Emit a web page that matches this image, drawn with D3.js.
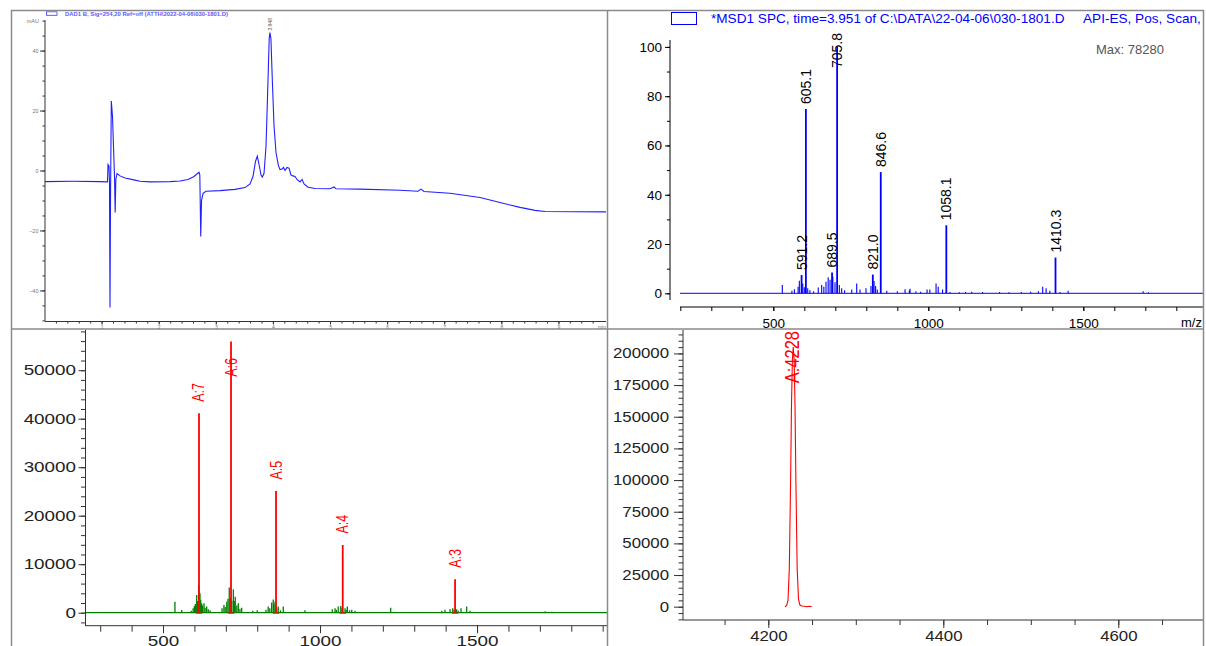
<!DOCTYPE html>
<html><head><meta charset="utf-8">
<script src="https://cdn.jsdelivr.net/npm/d3@7"></script>
<style>
body{margin:0;background:#fff}
svg{display:block}
text{font-family:"Liberation Sans",Arial,Helvetica,sans-serif}
</style>
</head><body>
<svg id="c" width="1206" height="646"></svg>
<script>
// ---------------- DATA ----------------
// Panel A: DAD chromatogram [time (min), mAU]
const chromTrace = [
 [0,-3.7],[0.5,-3.6],[0.97,-3.7],[1.103,-3.8],[1.112,2.0],[1.129,1.5],[1.138,-3.8],[1.147,-45.7],
 [1.156,-10],[1.17,23.2],[1.191,18],[1.208,8],[1.226,-2],[1.238,-14],[1.249,-3],[1.27,-1],
 [1.322,-1.8],[1.41,-2.5],[1.585,-3.2],[1.672,-3.6],[1.848,-3.8],[2.198,-3.7],[2.373,-3.5],
 [2.513,-3.0],[2.618,-2.0],[2.706,-0.6],[2.72,-1.5],[2.736,-22],[2.75,-10],[2.776,-7.6],
 [2.828,-6.9],[3.073,-6.7],[3.336,-6.3],[3.511,-5.7],[3.599,-4.5],[3.651,-2],[3.695,3],
 [3.727,4.8],[3.757,2],[3.792,-1.5],[3.814,-2.2],[3.844,-1],[3.879,8],[3.914,30],[3.935,44],
 [3.948,46],[3.965,44],[3.99,30],[4.019,15],[4.054,6],[4.095,1.8],[4.124,0.3],[4.159,0.5],
 [4.186,1.0],[4.212,0],[4.247,1.0],[4.282,0.8],[4.317,-1.5],[4.352,-1.8],[4.387,-2],[4.422,-3],
 [4.475,-3.8],[4.51,-3.0],[4.545,-4.5],[4.615,-5.6],[4.737,-6.0],[5.0,-6.1],[5.07,-5.5],
 [5.105,-6.1],[5.525,-6.2],[6.226,-6.6],[6.541,-6.9],[6.594,-6.2],[6.646,-7.0],[7.10,-7.6],
 [7.627,-9.0],[7.977,-10.7],[8.327,-12.3],[8.59,-13.3],[8.765,-13.7],[9.833,-13.8]
];
const chromLabels = [[3.948, 46, "3.948"]];
const chromYTicks = [-40,-20,0,20,40];
const chromXTicks = [1,2,3,4,5,6,7,8,9];

// Panel B: MS spectrum [m/z, % of max]
const msSpectrum = [
 [529,3.4],[560,1.0],[568,1.6],[580,2.7],[584,5.1],[591.2,7.4],[595,4.0],[600,2.5],[605.1,74.8],
 [611,2.0],[618,1.2],[630,0.8],[645,2.4],[656,3.4],[663,2.7],[670,4.7],[677,6.5],[683,5.5],
 [689.5,8.4],[692,6.7],[699,4.5],[705.8,100],[713,3.4],[720.6,2.0],[730,1.2],[753,1.5],
 [769,4.0],[779.7,1.5],[799,2.0],[815,3.0],[821.0,7.6],[825,5.0],[830,3.0],[835.5,1.5],
 [846.6,49.2],[866,1.0],[900,0.8],[925,1.6],[939,1.2],[941,1.8],[960,0.8],[975,0.6],
 [996,1.5],[1005,1.5],[1025,4.0],[1032,2.7],[1046,1.5],[1058.1,27.6],[1070,0.5],[1100,0.4],
 [1120,0.5],[1140,0.6],[1175,0.5],[1230,0.5],[1260,0.4],[1300,0.5],[1330,0.6],[1355,0.8],
 [1369,2.7],[1380,2.0],[1392,1.0],[1410.3,14.5],[1425,0.5],[1451,1.0],[1693,0.8],[1710,0.4]
];
const msLabels = [591.2,605.1,689.5,705.8,821.0,846.6,1058.1,1410.3];
const msMax = 78280;
const msYTicks = [0,20,40,60,80,100];
const msXTicks = [500,1000,1500];
const msTitle = ["*MSD1 SPC, time=3.951 of C:\\DATA\\22-04-06\\030-1801.D", "API-ES, Pos, Scan, Frag: 70"];

// Panel C: charge-state sticks and residual spectrum [m/z, abundance]
const greenSpectrum = [
 [538,2270],[559.6,560],[590,400],[596,900],[599.7,1380],[603,1800],[607.3,3650],[610,2400],[613.7,5700],[617.8,4000],
 [620,2600],[623,1940],[626,1500],[630.6,1940],[634,1000],[639,1300],[644,700],[649.7,500],[688,900],[694,1600],[698,1200],[703,2270],
 [707,2900],[711,5200],[714,3000],[719,2500],[724,4800],[727,2400],[730,3300],[735,1500],[739.8,1940],[745,800],[750.6,1000],[786,400],[800,500],
 [828,600],[835,1300],[840,900],[846,2100],[851,2700],[853,1800],[856.7,2270],[862,900],[867,1300],[874,500],[883,1300],[952,500],[1039,700],
 [1047.8,900],[1052,600],[1058,1300],[1066,1380],[1070,1000],[1079.6,900],[1083,600],[1087,1300],[1094,500],[1101,600],[1111.5,400],[1225,1030],
 [1387.6,400],[1398,600],[1414,700],[1422.6,900],[1427,600],[1435,700],[1440,400],[1449,900],[1467,1300],[1477.7,400],[1716.6,300],[1738,200]
];
const chargeSticks = [[614.6,41100,"A:7"],[716.6,55900,"A:6"],[859.9,25100,"A:5"],[1072.3,13960,"A:4"],[1430,6890,"A:3"]];
const cYTicks = [0,10000,20000,30000,40000,50000];
const cXTicks = [500,1000,1500];

// Panel D: deconvoluted mass [mass, abundance]
const deconv = [
 [4219,0],[4221,1000],[4222.5,5000],[4224,30000],[4225.5,100000],[4226.5,160000],[4227.5,195000],
 [4228.5,205000],[4229.5,195000],[4230.5,160000],[4231.5,100000],[4233,30000],[4234.5,6000],
 [4236,1500],[4238,500],[4241,300],[4244,0],[4247,400],[4249.5,0]
];
const deconvLabel = [4228.6, 205000, "A:4228"];
const dYTicks = [0,25000,50000,75000,100000,125000,150000,175000,200000];
const dXTicks = [4200,4400,4600];

// ---------------- DRAW ----------------
const svg = d3.select("#c");
const defs = svg.append("defs");
const intFmt = d3.format("d");
function clip(id,x0,y0,x1,y1){defs.append("clipPath").attr("id",id).append("rect").attr("x",x0).attr("y",y0).attr("width",x1-x0).attr("height",y1-y0);return `url(#${id})`;}
function stretch(g, sx, left){
  g.selectAll("text").each(function(){
    const t=d3.select(this);
    if(left){ t.attr("x", +t.attr("x")/sx); }
    t.attr("transform",`scale(${sx},1)`);
  });
}

// ===== Panel A =====
const ax = d3.scaleLinear().domain([0,9.84]).range([44.5,606.4]);
const ay = d3.scaleLinear().domain([-50.2,50.2]).range([321,20]);
const gA = svg.append("g");
gA.append("g").attr("transform","translate(45,0)")
  .call(d3.axisLeft(ay).tickValues(d3.range(-50,51,5)).tickSize(2.5).tickFormat(""))
  .call(g=>g.select(".domain").remove()).selectAll("line").attr("stroke","#333");
gA.append("g").attr("transform","translate(45,0)")
  .call(d3.axisLeft(ay).tickValues(chromYTicks).tickSize(5).tickPadding(1.5))
  .call(g=>g.select(".domain").attr("d","M0,20V321").attr("stroke","#333"))
  .call(g=>g.selectAll("text").attr("font-size",5.5).attr("fill","#777"))
  .selectAll("line").attr("stroke","#333");
gA.append("g").attr("transform","translate(0,321.5)")
  .call(d3.axisBottom(ax).tickValues(d3.range(1,49).map(i=>i*0.2).filter(v=>v<9.84)).tickSize(2).tickFormat(""))
  .call(g=>g.select(".domain").remove()).selectAll("line").attr("stroke","#333");
gA.append("g").attr("transform","translate(0,321.5)")
  .call(d3.axisBottom(ax).tickValues(chromXTicks).tickSize(3).tickPadding(0.5).tickFormat(intFmt))
  .call(g=>g.select(".domain").attr("d","M45,0H606").attr("stroke","#333"))
  .call(g=>g.selectAll("text").attr("font-size",5).attr("fill","#777"))
  .selectAll("line").attr("stroke","#333");
gA.append("text").attr("x",39).attr("y",23).attr("text-anchor","end").attr("font-size",5.5).attr("fill","#777").text("mAU");
gA.append("text").attr("x",606).attr("y",328.5).attr("text-anchor","end").attr("font-size",5).attr("fill","#777").text("min");
gA.append("rect").attr("x",46.5).attr("y",11.8).attr("width",10.5).attr("height",3.5).attr("fill","none").attr("stroke","#3a3aff").attr("stroke-width",0.8);
gA.append("text").attr("x",65).attr("y",15.5).attr("font-size",5.9).attr("font-weight","bold").attr("fill","#5a5aff")
  .text("DAD1 B, Sig=254,20 Ref=off (ATTH\\2022-04-06\\030-1801.D)");
gA.append("path").datum(chromTrace).attr("clip-path",clip("cA",45,20,606,321))
  .attr("fill","none").attr("stroke","#2020ff").attr("stroke-width",1.1)
  .attr("d",d3.line().x(d=>ax(d[0])).y(d=>ay(d[1])));
chromLabels.forEach(d=>{
  gA.append("text").attr("transform",`translate(${ax(d[0])+2},${ay(d[1])-2}) rotate(-90)`)
    .attr("font-size",5).attr("fill","#555").text(d[2]);
});

// ===== Panel B =====
const bx = d3.scaleLinear().domain([199,1886.1]).range([680,1203]);
const by = d3.scaleLinear().domain([-5.56,102.8]).range([307,40]);
const gB = svg.append("g");
gB.append("g").attr("transform","translate(670,0)")
  .call(d3.axisLeft(by).tickValues(d3.range(0,101,10)).tickSize(3).tickFormat(""))
  .call(g=>g.select(".domain").remove()).selectAll("line").attr("stroke","#000");
gB.append("g").attr("transform","translate(670,0)")
  .call(d3.axisLeft(by).tickValues(msYTicks).tickSize(5).tickPadding(3).tickFormat(intFmt))
  .call(g=>g.select(".domain").attr("d","M0,40V300").attr("stroke","#000"))
  .call(g=>g.selectAll("text").attr("font-size",13.5).attr("fill","#000"))
  .selectAll("line").attr("stroke","#000");
gB.append("g").attr("transform","translate(0,307)")
  .call(d3.axisBottom(bx).tickValues(d3.range(200,1887,100)).tickSize(4).tickFormat(""))
  .call(g=>g.select(".domain").attr("d","M680,0H1203").attr("stroke","#000"))
  .selectAll("line").attr("stroke","#000");
gB.append("g").attr("transform","translate(0,307)")
  .call(d3.axisBottom(bx).tickValues(msXTicks).tickSize(4).tickPadding(7).tickFormat(intFmt))
  .call(g=>g.select(".domain").remove())
  .call(g=>g.selectAll("text").attr("font-size",13.5).attr("fill","#000"))
  .selectAll("line").attr("stroke","#000");
gB.append("text").attr("x",1181).attr("y",327).attr("font-size",13).attr("fill","#000").text("m/z");
const gBd = gB.append("g").attr("clip-path",clip("cB",680,32,1203,307));
gBd.append("line").attr("x1",680).attr("x2",1203).attr("y1",by(0)).attr("y2",by(0)).attr("stroke","#0000ff").attr("stroke-width",1);
gBd.selectAll("line.s").data(msSpectrum).join("line").attr("class","s")
  .attr("x1",d=>bx(d[0])).attr("x2",d=>bx(d[0])).attr("y1",by(0)).attr("y2",d=>by(d[1]))
  .attr("stroke","#0000ff").attr("stroke-width",d=>msLabels.includes(d[0])?1.8:1.1);
msLabels.forEach(m=>{
  const p = msSpectrum.find(d=>d[0]===m);
  const t = gB.append("text").attr("font-size",14).attr("fill","#000").text(m.toFixed(1));
  const len = t.node().getComputedTextLength();
  let start = by(p[1]) - 5;
  if(start - len < 33) start = 33 + len;
  t.attr("transform",`translate(${bx(m)+5},${start}) rotate(-90)`);
});
gB.append("rect").attr("x",671.5).attr("y",12.5).attr("width",25).attr("height",12).attr("fill","none").attr("stroke","#0000ff").attr("stroke-width",1);
{
  const tt = gB.append("text").attr("clip-path",clip("cBt",608,0,1201,40)).attr("y",23).attr("font-size",13.6).attr("fill","#0000ff");
  tt.append("tspan").attr("x",711).text(msTitle[0]);
  tt.append("tspan").attr("x",1083).text(msTitle[1]);
}
gB.append("text").attr("x",1096).attr("y",54).attr("font-family","'Liberation Mono','Courier New',monospace").attr("font-size",13).attr("fill","#555").text("Max: "+msMax);

// ===== Panel C =====
const SXC = 1.3;
const cx = d3.scaleLinear().domain([251.6,1917]).range([85,608]);
const cy = d3.scaleLinear().domain([-2680,58290]).range([625.7,330]);
const gC = svg.append("g");
gC.append("g").attr("transform","translate(85.5,0)")
  .call(d3.axisLeft(cy).tickValues(d3.range(-2000,58001,2000)).tickSize(4.5).tickFormat(""))
  .call(g=>g.select(".domain").remove()).selectAll("line").attr("stroke","#333");
gC.append("g").attr("transform","translate(85.5,0)")
  .call(d3.axisLeft(cy).tickValues(cYTicks).tickSize(7).tickPadding(2.5).tickFormat(intFmt))
  .call(g=>g.select(".domain").attr("d","M0,330V625.7").attr("stroke","#333"))
  .call(g=>g.selectAll("text").attr("font-size",14.5).attr("fill","#222"))
  .call(g=>stretch(g,SXC,true))
  .selectAll("line").attr("stroke","#333");
gC.append("g").attr("transform","translate(0,625.7)")
  .call(d3.axisBottom(cx).tickValues(d3.range(300,1901,100)).tickSize(6).tickFormat(""))
  .call(g=>g.select(".domain").attr("d","M85,0H608").attr("stroke","#333"))
  .selectAll("line").attr("stroke","#333");
gC.append("g").attr("transform","translate(0,625.7)")
  .call(d3.axisBottom(cx).tickValues(cXTicks).tickSize(7.5).tickPadding(3).tickFormat(intFmt))
  .call(g=>g.select(".domain").remove())
  .call(g=>g.selectAll("text").attr("font-size",14.5).attr("fill","#222"))
  .call(g=>stretch(g,SXC,false))
  .selectAll("line").attr("stroke","#333");
const gCd = gC.append("g").attr("clip-path",clip("cC",86,330,607,625));
gCd.append("line").attr("x1",86).attr("x2",607).attr("y1",cy(0)).attr("y2",cy(0)).attr("stroke","#008000").attr("stroke-width",1.2);
gCd.selectAll("line.g").data(greenSpectrum).join("line").attr("class","g")
  .attr("x1",d=>cx(d[0])).attr("x2",d=>cx(d[0])).attr("y1",cy(0)).attr("y2",d=>cy(d[1]))
  .attr("stroke","#008000").attr("stroke-width",1.3);
gCd.selectAll("line.r").data(chargeSticks).join("line").attr("class","r")
  .attr("x1",d=>cx(d[0])).attr("x2",d=>cx(d[0])).attr("y1",cy(0)).attr("y2",d=>cy(d[1]))
  .attr("stroke","#ff0000").attr("stroke-width",1.8);
gCd.selectAll("line.rb").data(chargeSticks).join("line").attr("class","rb")
  .attr("x1",d=>cx(d[0]-10)).attr("x2",d=>cx(d[0]+10)).attr("y1",cy(0)+0.5).attr("y2",cy(0)+0.5)
  .attr("stroke","#ff0000").attr("stroke-width",1);
chargeSticks.forEach(d=>{
  const t = gC.append("text").attr("font-size",12.5).attr("fill","#ff0000").text(d[2]);
  const len = t.node().getComputedTextLength();
  let start = cy(d[1]) - 11.5;
  if(start - len < 358) start = 358 + len;
  t.attr("transform",`translate(${cx(d[0])+5.5},${start}) scale(${SXC},1) rotate(-90)`);
});

// ===== Panel D =====
const SXD = 1.2;
const dx = d3.scaleLinear().domain([4102.5,4696.8]).range([683,1203]);
const dy = d3.scaleLinear().domain([-10500,218500]).range([620,330]);
const gD = svg.append("g");
gD.append("g").attr("transform","translate(683,0)")
  .call(d3.axisLeft(dy).tickValues(d3.range(-10000,218001,5000)).tickSize(4.5).tickFormat(""))
  .call(g=>g.select(".domain").remove()).selectAll("line").attr("stroke","#333");
gD.append("g").attr("transform","translate(683,0)")
  .call(d3.axisLeft(dy).tickValues(dYTicks).tickSize(9).tickPadding(5).tickFormat(intFmt))
  .call(g=>g.select(".domain").attr("d","M0,330V620").attr("stroke","#333"))
  .call(g=>g.selectAll("text").attr("font-size",14).attr("fill","#222"))
  .call(g=>stretch(g,SXD,true))
  .selectAll("line").attr("stroke","#333");
gD.append("g").attr("transform","translate(0,620)")
  .call(d3.axisBottom(dx).tickValues(d3.range(4150,4696,50)).tickSize(5).tickFormat(""))
  .call(g=>g.select(".domain").attr("d","M683,0H1203").attr("stroke","#333"))
  .selectAll("line").attr("stroke","#333");
gD.append("g").attr("transform","translate(0,620)")
  .call(d3.axisBottom(dx).tickValues(dXTicks).tickSize(8).tickPadding(3).tickFormat(intFmt))
  .call(g=>g.select(".domain").remove())
  .call(g=>g.selectAll("text").attr("font-size",14).attr("fill","#222"))
  .call(g=>stretch(g,SXD,false))
  .selectAll("line").attr("stroke","#333");
gD.append("path").datum(deconv).attr("clip-path",clip("cD",684,330,1203,620))
  .attr("fill","none").attr("stroke","#ff0000").attr("stroke-width",1.1)
  .attr("d",d3.line().x(d=>dx(d[0])).y(d=>dy(d[1])));
{
  const t = gD.append("text").attr("font-size",16.5).attr("fill","#ff0000").text(deconvLabel[2]);
  const len = t.node().getComputedTextLength();
  let start = dy(deconvLabel[1]) - 5;
  if(start - len < 331) start = 331 + len;
  t.attr("transform",`translate(${dx(deconvLabel[0])+6},${start}) scale(${SXD},1) rotate(-90)`);
}

// ===== Panel borders =====
const bd = svg.append("g").attr("stroke","#8a8a8a").attr("stroke-width",1.5).attr("fill","none");
bd.append("path").attr("d","M11.5,646V10.5H1203.5V646");
bd.append("path").attr("d","M11.5,329H1203.5");
bd.append("path").attr("d","M607.5,10.5V646");
</script>
</body></html>
